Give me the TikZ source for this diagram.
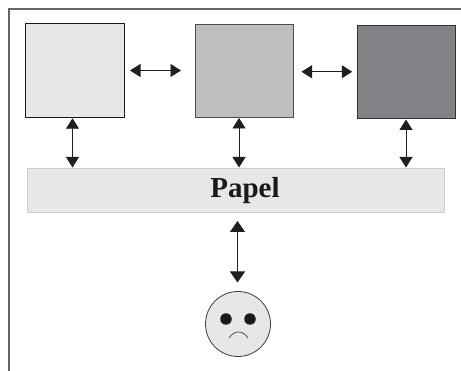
\documentclass[tikz,border=0pt]{standalone}
\usepackage{fontspec}
\setmainfont{Liberation Serif}
\usetikzlibrary{arrows.meta}
\tikzset{
  x=1pt,y=-1pt,
  sq/.style={draw=#1,line width=0.9pt,minimum width=98.5pt,minimum height=93.5pt,inner sep=0pt,outer sep=0pt},
  link/.style={line width=0.9pt,{Triangle[length=10.5pt,width=13pt]}-{Triangle[length=10.5pt,width=13pt]},color=black!88},
  biglink/.style={link,{Triangle[length=11pt,width=15pt]}-{Triangle[length=11pt,width=15pt]}},
}
\definecolor{lite}{HTML}{E6E7E8}
\definecolor{mid}{HTML}{BCBEC0}
\definecolor{dark}{HTML}{808285}
\begin{document}
\begin{tikzpicture}
\useasboundingbox (0,0) rectangle (461,371);
\path[draw=black!60,line width=2pt] (8.5,371) -- (8.5,9.5) -- (461,9.5);
\node[sq=black!90,fill=lite] (b1) at (74.75,70.5) {};
\node[sq=black!70,fill=mid] (b2) at (244.25,70.75) {};
\node[sq=black!80,fill=dark] (b3) at (406.5,71.75) {};
\node[draw=black!20,line width=0.9pt,fill=lite,minimum width=417pt,minimum height=43.5pt,inner sep=0pt,outer sep=0pt,font=\fontsize{29}{30}\selectfont\bfseries,text=black!90] (paper) at (236,190.25) {\hspace*{18pt}Papel};
\node[circle,draw=black!75,line width=0.8pt,fill=lite,minimum size=65pt,inner sep=0pt,outer sep=0pt] (face) at (238,324) {};
\node[circle,fill=black!90,minimum size=11.5pt,inner sep=0pt] (eyeL) at (226,319) {};
\node[circle,fill=black!90,minimum size=11.5pt,inner sep=0pt] (eyeR) at (250,319) {};
\draw[black!75,line width=0.7pt] (229,338) .. controls (234,330) and (243,330) .. (248,338);
\coordinate (xa) at (72.5,0);
\coordinate (xb) at (239,0);
\coordinate (xc) at (406,0);
\coordinate (xd) at (237.5,0);
\draw[link,shorten <=6pt,shorten >=14pt] (b1.east) -- (b1.east -| b2.west);
\draw[link,shorten <=8pt,shorten >=5pt] (b2.east |- b3.west) -- (b3.west);
\draw[link,shorten <=1pt,shorten >=1pt] (b1.south -| xa) -- (paper.north -| xa);
\draw[link,shorten <=0.5pt,shorten >=1pt] (b2.south -| xb) -- (paper.north -| xb);
\draw[link,shorten <=1pt,shorten >=1pt] (b3.south -| xc) -- (paper.north -| xc);
\draw[biglink,shorten <=9pt,shorten >=9pt] (paper.south -| xd) -- (face.north -| xd);
\end{tikzpicture}
\end{document}
